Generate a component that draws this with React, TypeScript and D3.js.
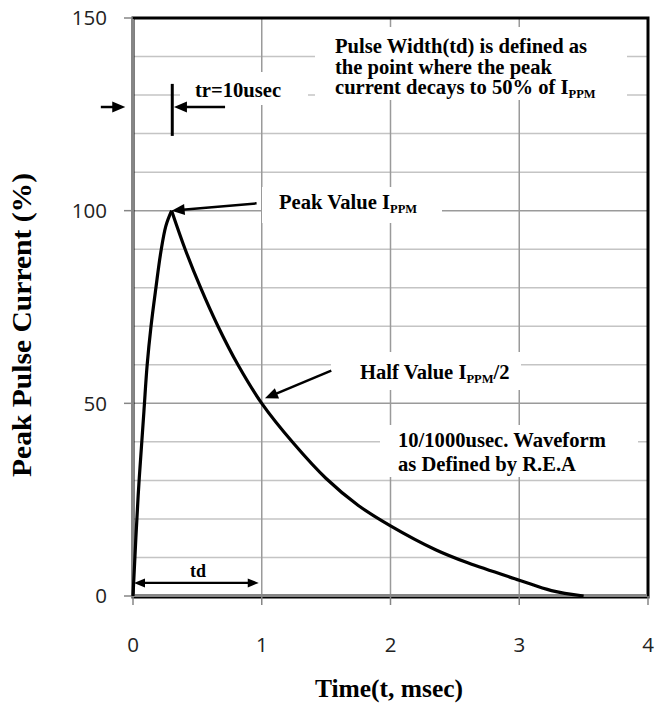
import React from "react";
import * as d3 from "d3";

// ---- data ----
const riseT = [0, 0.04, 0.085, 0.11, 0.14, 0.178, 0.215, 0.255, 0.3];
const riseV = [0, 26, 48, 60, 70, 80, 89, 96, 100];
const decayT = [0.3, 0.405, 0.525, 0.66, 0.815, 1.0, 1.25, 1.5, 1.75, 2.0, 2.35, 2.6, 3.0, 3.25, 3.5];
const decayV = [100, 90, 80, 70, 60, 50, 39.5, 30.5, 23.5, 18.2, 12, 8.6, 4.1, 1.4, 0];
const xTicks = [0, 1, 2, 3, 4];
const yTicks = [0, 50, 100, 150];
const yMinorGrid = d3.range(0, 151, 10);
const xTitle = "Time(t, msec)";
const yTitle = "Peak Pulse Current (%)";

// annotation anchors in data units [t, value]
const peakArrow = { from: [0.96, 101.9], to: [0.3, 100] };
const halfArrow = { from: [1.54, 58.5], to: [1.025, 51.3] };
const leftArrow = { from: [-0.25, 126.9], to: [-0.06, 126.9] };
const trArrow = { from: [0.715, 126.9], to: [0.318, 126.9] };
const trBar = { t: 0.305, v0: 119.4, v1: 132.9 };
const tdArrow = { t0: 0, t1: 1, v: 3.4 };

const W = 656, H = 713;
const SERIF = "'Liberation Serif', 'Times New Roman', serif";
const SANS = "'Open Sans', 'Noto Sans', sans-serif";

function Arrow({ x1, y1, x2, y2, both = false, w = 2.5, len = 13, hw = 5.5 }: any) {
  const head = (ax: number, ay: number, bx: number, by: number) => {
    const dx = bx - ax, dy = by - ay;
    const L = Math.hypot(dx, dy);
    const ux = dx / L, uy = dy / L;
    const px = -uy, py = ux;
    const bxp = bx - ux * len, byp = by - uy * len;
    return `${bx},${by} ${bxp + px * hw},${byp + py * hw} ${bxp - px * hw},${byp - py * hw}`;
  };
  const dx = x2 - x1, dy = y2 - y1;
  const L = Math.hypot(dx, dy);
  const ux = dx / L, uy = dy / L;
  const sx = both ? x1 + ux * (len - 2) : x1;
  const sy = both ? y1 + uy * (len - 2) : y1;
  return (
    <g>
      <line x1={sx} y1={sy} x2={x2 - ux * (len - 2)} y2={y2 - uy * (len - 2)} stroke="#000" strokeWidth={w} />
      <polygon points={head(x1, y1, x2, y2)} fill="#000" />
      {both && <polygon points={head(x2, y2, x1, y1)} fill="#000" />}
    </g>
  );
}

export default function App() {
  const x = d3.scaleLinear().domain([0, 4]).range([133, 648]);
  const y = d3.scaleLinear().domain([0, 150]).range([596, 18]);
  const risePath = d3
    .line<number>()
    .x((t) => x(t))
    .y((_, i) => y(riseV[i]))
    .curve(d3.curveCatmullRom.alpha(0.5))(riseT);
  const decayPath = d3
    .line<number>()
    .x((t) => x(t))
    .y((_, i) => y(decayV[i]))
    .curve(d3.curveCatmullRom.alpha(0.5))(decayT);

  const [x0, x1] = x.range();
  const [y0, y1] = y.range();
  const annBold = { fontFamily: SERIF, fontWeight: 700, fontSize: 20.6, fill: "#000" } as any;

  return (
    <svg width={W} height={H} style={{ position: "absolute", left: 0, top: 0, background: "#fff" }}>
      {/* grid */}
      {yMinorGrid.map((v) => (
        <line key={"gy" + v} x1={x0} x2={x1} y1={y(v)} y2={y(v)}
          stroke={v % 50 === 0 ? "#9a9a9a" : "#c4c4c4"} strokeWidth={1.5} />
      ))}
      {xTicks.slice(1, -1).map((t) => (
        <line key={"gx" + t} x1={x(t)} x2={x(t)} y1={y1} y2={y0} stroke="#9a9a9a" strokeWidth={1.5} />
      ))}

      {/* white annotation boxes */}
      <rect x={315} y={27} width={312} height={73} fill="#fff" />
      <rect x={180} y={72} width={128} height={33} fill="#fff" />
      <rect x={262} y={187} width={180} height={36} fill="#fff" />
      <rect x={331} y={352} width={190} height={38} fill="#fff" />
      <rect x={380} y={425} width={258} height={52} fill="#fff" />

      {/* frame */}
      <rect x={x0} y={y1} width={x1 - x0} height={y0 - y1 + 1} fill="none" stroke="#000" strokeWidth={3} />
      <line x1={x0 - 0.5} x2={x0 - 0.5} y1={y1 + 1} y2={y0} stroke="#868686" strokeWidth={3} />
      <line x1={x0} x2={x1 - 1} y1={y0 - 0.5} y2={y0 - 0.5} stroke="#868686" strokeWidth={3} />

      {/* ticks */}
      {yTicks.map((v) => (
        <g key={"yt" + v}>
          <line x1={x0 - 9} x2={x0} y1={y(v)} y2={y(v)} stroke="#868686" strokeWidth={1.5} />
          <text x={x0 - 26} y={y(v)} dy="0.35em" textAnchor="end" fontFamily={SANS} fontSize={20.5} fill="#222">{v}</text>
        </g>
      ))}
      {xTicks.map((t) => (
        <g key={"xt" + t}>
          <line x1={x(t)} x2={x(t)} y1={y0} y2={y0 + 9} stroke="#868686" strokeWidth={1.5} />
          <text x={x(t)} y={645} dy="0.35em" textAnchor="middle" fontFamily={SANS} fontSize={20.5} fill="#222">{t}</text>
        </g>
      ))}

      {/* axis titles */}
      <text x={389} y={688} dy="0.35em" textAnchor="middle" fontFamily={SERIF} fontWeight={700} fontSize={25.5}>{xTitle}</text>
      <text transform={`translate(31,325) rotate(-90)`} textAnchor="middle" fontFamily={SERIF} fontWeight={700} fontSize={27}
        textLength={304} lengthAdjust="spacingAndGlyphs">{yTitle}</text>

      {/* curve */}
      <path d={risePath || ""} fill="none" stroke="#000" strokeWidth={3.2} />
      <path d={decayPath || ""} fill="none" stroke="#000" strokeWidth={3.2} />

      {/* arrows */}
      <Arrow x1={x(leftArrow.from[0])} y1={y(leftArrow.from[1])} x2={x(leftArrow.to[0])} y2={y(leftArrow.to[1])} />
      <line x1={x(trBar.t)} x2={x(trBar.t)} y1={y(trBar.v0)} y2={y(trBar.v1)} stroke="#000" strokeWidth={3} />
      <Arrow x1={x(trArrow.from[0])} y1={y(trArrow.from[1])} x2={x(trArrow.to[0])} y2={y(trArrow.to[1])} />
      <Arrow x1={x(peakArrow.from[0])} y1={y(peakArrow.from[1])} x2={x(peakArrow.to[0])} y2={y(peakArrow.to[1])} />
      <Arrow x1={x(halfArrow.from[0])} y1={y(halfArrow.from[1])} x2={x(halfArrow.to[0])} y2={y(halfArrow.to[1])} />
      <Arrow both x1={x(tdArrow.t0) + 1} y1={y(tdArrow.v)} x2={x(tdArrow.t1) - 3} y2={y(tdArrow.v)} w={2.2} len={11} hw={4.5} />

      {/* annotation texts */}
      <text {...annBold} x={335}>
        <tspan x={335} y={53}>Pulse Width(td) is defined as</tspan>
        <tspan x={335} y={73.5}>the point where the peak</tspan>
        <tspan x={335} y={94}>current decays to 50% of I</tspan>
        <tspan fontSize={12.5} dy={4}>PPM</tspan>
      </text>
      <text {...annBold} x={195} y={97}>tr=10usec</text>
      <text {...annBold} x={279} y={209}>
        Peak Value I<tspan fontSize={12.5} dy={4}>PPM</tspan>
      </text>
      <text {...annBold} x={360} y={379}>
        Half Value I<tspan fontSize={12.5} dy={4}>PPM</tspan><tspan dy={-4}>/2</tspan>
      </text>
      <text {...annBold} x={398}>
        <tspan x={398} y={447}>10/1000usec. Waveform</tspan>
        <tspan x={398} y={471}>as Defined by R.E.A</tspan>
      </text>
      <text {...annBold} fontSize={18} x={198} y={577} textAnchor="middle">td</text>
    </svg>
  );
}
